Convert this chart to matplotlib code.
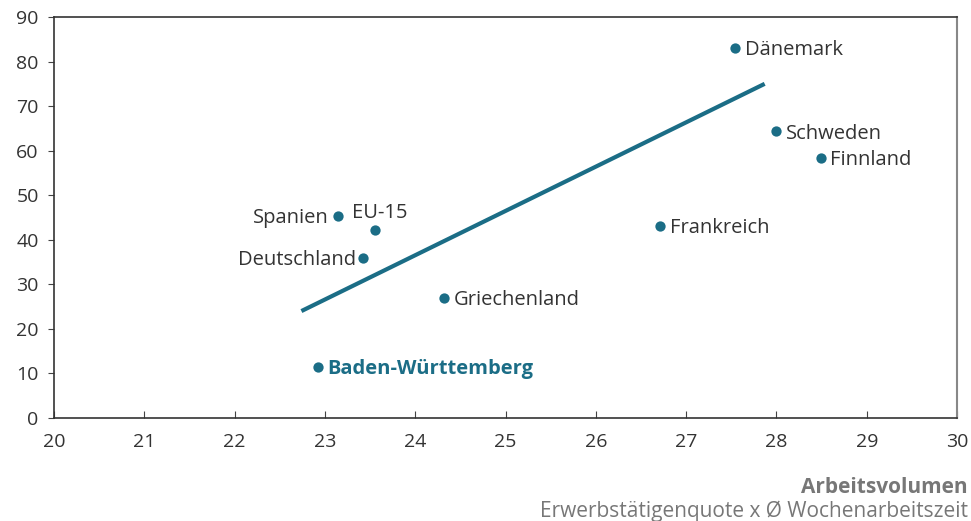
import matplotlib.pyplot as plt

# Länder und Werte (x: Arbeitsvolumen, y: Wert)
laender = ["Dänemark", "Schweden", "Finnland", "Frankreich", "Spanien",
           "EU-15", "Deutschland", "Griechenland", "Baden-Württemberg"]
x_werte = [27.54, 28.00, 28.49, 26.71, 23.15, 23.55, 23.42, 24.32, 22.92]
y_werte = [83.0, 64.3, 58.3, 43.1, 45.3, 42.2, 35.9, 26.9, 11.4]

# Trendlinie (Endpunkte)
trend_x = [22.74, 27.87]
trend_y = [24.0, 75.0]

x_ticks = list(range(20, 31))
y_ticks = list(range(0, 91, 10))

farbe = "#1b6d86"
text_farbe = "#333333"

plt.rcParams["font.family"] = ["Open Sans", "DejaVu Sans"]

fig = plt.figure(figsize=(9.71, 5.21), dpi=100)
ax = fig.add_axes([0.0556, 0.1977, 0.9300, 0.7697])

ax.plot(trend_x, trend_y, color=farbe, linewidth=3, solid_capstyle="butt")
ax.scatter(x_werte, y_werte, s=55, color=farbe, zorder=3, linewidths=0)

# Beschriftungen: (ha, dx in Punkten, dy in Punkten)
lage = {
    "Spanien": ("right", -7, -1.5),
    "Deutschland": ("right", -5, -1.5),
    "EU-15": ("center", 4, 12),
}
for name, xv, yv in zip(laender, x_werte, y_werte):
    ha, dx, dy = lage.get(name, ("left", 7, -1.5))
    bw = name == "Baden-Württemberg"
    ax.annotate(name, (xv, yv), xytext=(dx, dy), textcoords="offset points",
                ha=ha, va="center", fontsize=14.5,
                color=farbe if bw else text_farbe,
                fontweight="bold" if bw else "normal")

ax.set_xlim(20, 30)
ax.set_ylim(0, 90)
ax.set_xticks(x_ticks)
ax.set_yticks(y_ticks)
ax.tick_params(axis="x", direction="in", length=5, labelsize=14,
               colors="#444444", labelcolor=text_farbe, pad=11)
ax.tick_params(axis="y", direction="out", length=4, labelsize=14,
               colors="#444444", labelcolor=text_farbe, pad=7)
for seite in ["left", "bottom", "top"]:
    ax.spines[seite].set_color("#333333")
    ax.spines[seite].set_linewidth(1.2)
ax.spines["right"].set_color("#888888")
ax.spines["right"].set_linewidth(1.5)

fig.text(0.997, 0.065, "Arbeitsvolumen", ha="right", va="center",
         fontsize=15, fontweight="bold", color="#777777")
fig.text(0.997, 0.018, "Erwerbstätigenquote x Ø Wochenarbeitszeit",
         ha="right", va="center", fontsize=15, color="#777777")

fig.savefig("out.png", dpi=100)
